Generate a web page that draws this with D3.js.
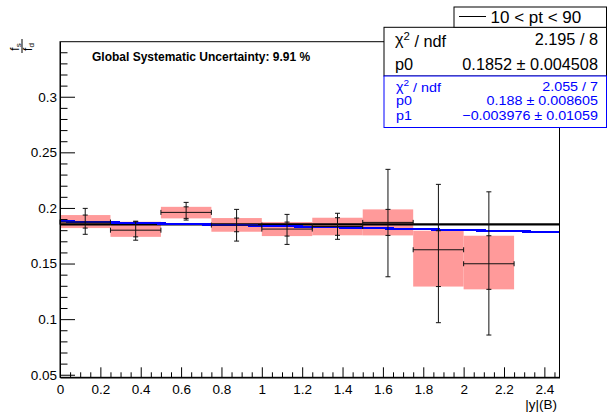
<!DOCTYPE html>
<html>
<head>
<meta charset="utf-8">
<script src="https://cdn.jsdelivr.net/npm/d3@7"></script>
<style>
  html, body { margin: 0; padding: 0; background: #fff; }
  svg { display: block; font-family: "Liberation Sans", Arial, Helvetica, sans-serif; }
</style>
</head>
<body>
<svg id="chart" width="608" height="412"></svg>
<script>
// |y|(B) bins and the measured fs/fd ratio with statistical and systematic uncertainties
const binEdges = [0, 0.25, 0.5, 0.75, 1.0, 1.25, 1.5, 1.75, 2.0, 2.25];
const ratio    = [0.1873, 0.1800, 0.1960, 0.1846, 0.1810, 0.1833, 0.1870, 0.1624, 0.1498];
const statUp   = [0.0123, 0.0081, 0.0090, 0.0141, 0.0132, 0.0119, 0.0477, 0.0588, 0.0647];
const statDown = [0.0110, 0.0090, 0.0069, 0.0144, 0.0138, 0.0115, 0.0489, 0.0656, 0.0641];
const systUp   = [0.0063, 0.0076, 0.0050, 0.0063, 0.0063, 0.0079, 0.0117, 0.0171, 0.0252];
const systDown = [0.0054, 0.0060, 0.0054, 0.0060, 0.0063, 0.0079, 0.0117, 0.0331, 0.0230];

// Fit results
const constP0 = 0.1852;
const linP0 = 0.188;
const linP1 = -0.003976;

// Tick values
const xMajorTicks = [0, 0.2, 0.4, 0.6, 0.8, 1, 1.2, 1.4, 1.6, 1.8, 2, 2.2, 2.4];
const xTickLabels = ["0", "0.2", "0.4", "0.6", "0.8", "1", "1.2", "1.4", "1.6", "1.8", "2", "2.2", "2.4"];
const yMajorTicks = [0.05, 0.1, 0.15, 0.2, 0.25, 0.3];
const yTickLabels = ["0.05", "0.1", "0.15", "0.2", "0.25", "0.3"];

// Stats box text
const constStats = [["χ2 / ndf", "2.195 / 8"], ["p0", "0.1852 \u00b1 0.004508"]];
const linStats = [["χ2 / ndf", "2.055 / 7"], ["p0", "0.188 \u00b1 0.008605"], ["p1", "\u22120.003976 \u00b1 0.01059"]];

const svg = d3.select("#chart");
const frame = { left: 60, right: 559.5, top: 41.7, bottom: 377.3 };
const xMax = 2.475;

const x = d3.scaleLinear().domain([0, xMax]).range([frame.left, frame.right]);
const y = d3.scaleLinear().domain([0.0477, 0.3495]).range([frame.bottom, frame.top]);

const bins = ratio.map((v, i) => ({
  lo: binEdges[i], hi: binEdges[i + 1], c: (binEdges[i] + binEdges[i + 1]) / 2,
  v, su: statUp[i], sd: statDown[i], yu: systUp[i], yd: systDown[i]
}));

// Systematic boxes
svg.append("g").selectAll("rect").data(bins).join("rect")
  .attr("x", d => x(d.lo))
  .attr("width", d => x(d.hi) - x(d.lo))
  .attr("y", d => y(d.v + d.yu))
  .attr("height", d => y(d.v - d.yd) - y(d.v + d.yu))
  .attr("fill", "#ff9a9a");

// Fit lines
const line = d3.line().x(d => x(d[0])).y(d => y(d[1]));
svg.append("path")
  .attr("d", line([[0, constP0], [xMax, constP0]]))
  .attr("stroke", "#000").attr("stroke-width", 2.4).attr("fill", "none");
svg.append("path")
  .attr("d", line(d3.range(0, 13).map(k => { const xv = k * xMax / 12; return [xv, linP0 + linP1 * xv]; })))
  .attr("stroke", "#0000ff").attr("stroke-width", 2.2).attr("fill", "none")
  .attr("shape-rendering", "crispEdges");

// Error bars
const eb = svg.append("g").attr("stroke", "#111").attr("stroke-width", 1).attr("fill", "none");
const cap = 2.5;
bins.forEach(d => {
  const cx = x(d.c), cy = y(d.v);
  eb.append("line").attr("x1", x(d.lo)).attr("x2", x(d.hi)).attr("y1", cy).attr("y2", cy);
  eb.append("line").attr("x1", x(d.lo)).attr("x2", x(d.lo)).attr("y1", cy - cap).attr("y2", cy + cap);
  eb.append("line").attr("x1", x(d.hi)).attr("x2", x(d.hi)).attr("y1", cy - cap).attr("y2", cy + cap);
  eb.append("line").attr("x1", cx).attr("x2", cx).attr("y1", y(d.v + d.su)).attr("y2", y(d.v - d.sd));
  [d.v + d.su, d.v - d.sd, d.v + d.yu, d.v - d.yd].forEach(val => {
    eb.append("line").attr("x1", cx - cap).attr("x2", cx + cap).attr("y1", y(val)).attr("y2", y(val));
  });
});

// Frame
svg.append("rect")
  .attr("x", frame.left).attr("y", frame.top)
  .attr("width", frame.right - frame.left).attr("height", frame.bottom - frame.top)
  .attr("fill", "none").attr("stroke", "#000").attr("stroke-width", 1);

// Axes
const xMinor = d3.range(0, 2.4501, 0.05).filter(v => Math.abs(v / 0.2 - Math.round(v / 0.2)) > 1e-6);
const yMinor = d3.range(0.05, 0.3495, 0.01).filter(v => Math.abs(v / 0.05 - Math.round(v / 0.05)) > 1e-6);

const xAxis = svg.append("g").attr("transform", `translate(0,${frame.bottom})`)
  .call(d3.axisBottom(x).tickValues(xMajorTicks).tickSize(-10).tickSizeOuter(0).tickPadding(7)
    .tickFormat((d, i) => xTickLabels[i]));
svg.append("g").attr("transform", `translate(0,${frame.bottom})`)
  .call(d3.axisBottom(x).tickValues(xMinor).tickSize(-5).tickSizeOuter(0).tickFormat(""));

const yAxis = svg.append("g").attr("transform", `translate(${frame.left},0)`)
  .call(d3.axisLeft(y).tickValues(yMajorTicks).tickSize(-15).tickSizeOuter(0).tickPadding(3)
    .tickFormat((d, i) => yTickLabels[i]));
svg.append("g").attr("transform", `translate(${frame.left},0)`)
  .call(d3.axisLeft(y).tickValues(yMinor).tickSize(-7.5).tickSizeOuter(0).tickFormat(""));

svg.selectAll(".domain").attr("stroke", "#000");
svg.selectAll(".tick line").attr("stroke", "#000");
svg.selectAll(".tick text").attr("font-size", 13.5).attr("font-family", "Liberation Sans, Arial, sans-serif").attr("fill", "#000");
xAxis.selectAll(".tick text").attr("dy", null).attr("y", 16.5).attr("dominant-baseline", null);

// Axis titles
svg.append("text").attr("x", 557).attr("y", 409).attr("text-anchor", "end")
  .attr("font-size", 13.5).text("|y|(B)");

// Rotated fraction fs / fd
const yt = svg.append("g").attr("transform", "translate(22,46) rotate(-90)");
yt.append("line").attr("x1", -7).attr("x2", 7).attr("y1", 0).attr("y2", 0)
  .attr("stroke", "#000").attr("stroke-width", 1);
const num = yt.append("text").attr("x", -1).attr("y", -3).attr("text-anchor", "middle").attr("font-size", 12);
num.append("tspan").text("f");
num.append("tspan").attr("font-size", 8).attr("dy", 2).text("s");
const den = yt.append("text").attr("x", -1).attr("y", 10).attr("text-anchor", "middle").attr("font-size", 12);
den.append("tspan").text("f");
den.append("tspan").attr("font-size", 8).attr("dy", 2).text("d");

// Annotation
svg.append("text").attr("x", 92).attr("y", 61).attr("font-size", 12).attr("font-weight", "bold")
  .text("Global Systematic Uncertainty: 9.91 %");

// Stats box helper
function statLabel(sel, label) {
  if (label.startsWith("χ2")) {
    sel.append("tspan").text("χ");
    sel.append("tspan").attr("font-size", "0.7em").attr("dy", "-0.45em").text("2");
    sel.append("tspan").attr("dy", "0.45em").text(label.slice(2));
  } else {
    sel.text(label);
  }
}

// Constant-fit stats box
svg.append("rect").attr("x", 384).attr("y", 27.3).attr("width", 222.5).attr("height", 48.7)
  .attr("fill", "#fff").attr("stroke", "#000").attr("stroke-width", 1);
const cBase = [45, 70];
constStats.forEach((row, i) => {
  statLabel(svg.append("text").attr("x", 395).attr("y", cBase[i]).attr("font-size", 16.3), row[0]);
  svg.append("text").attr("x", 598).attr("y", cBase[i]).attr("font-size", 16.3)
    .attr("text-anchor", "end").text(row[1]);
});

// Linear-fit stats box (text slightly widened to fill the row)
svg.append("rect").attr("x", 384).attr("y", 76).attr("width", 222.5).attr("height", 51.5)
  .attr("fill", "#fff").attr("stroke", "#0000ff").attr("stroke-width", 1);
const lBase = [90.5, 105, 119.5];
const wide = 1.12;
linStats.forEach((row, i) => {
  const gl = svg.append("g").attr("transform", `translate(396,${lBase[i]}) scale(${wide},1)`);
  statLabel(gl.append("text").attr("x", 0).attr("y", 0).attr("font-size", 12.8).attr("fill", "#0000ff"), row[0]);
  const gr = svg.append("g").attr("transform", `translate(598,${lBase[i]}) scale(${wide},1)`);
  gr.append("text").attr("x", 0).attr("y", 0).attr("font-size", 12.8).attr("fill", "#0000ff")
    .attr("text-anchor", "end").text(row[1]);
});

// Legend
svg.append("rect").attr("x", 454).attr("y", 7).attr("width", 152.5).attr("height", 20.3)
  .attr("fill", "#fff").attr("stroke", "#000").attr("stroke-width", 1);
svg.append("line").attr("x1", 459).attr("x2", 486).attr("y1", 16.5).attr("y2", 16.5)
  .attr("stroke", "#000").attr("stroke-width", 1);
svg.append("text").attr("x", 490.5).attr("y", 23).attr("font-size", 17).text("10 < pt < 90");
</script>
</body>
</html>
